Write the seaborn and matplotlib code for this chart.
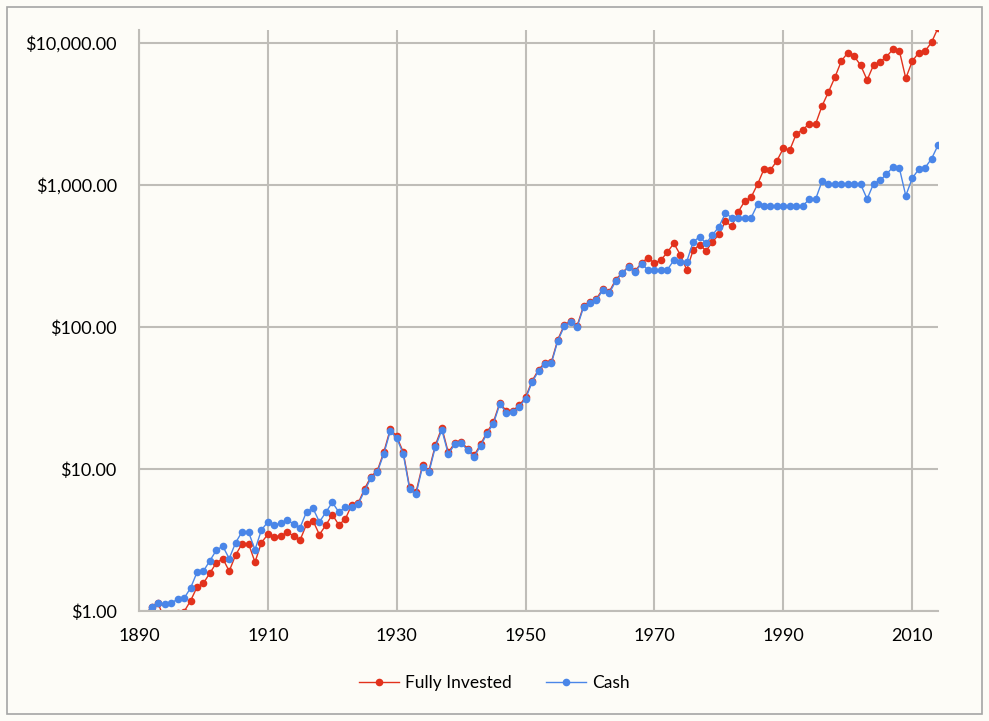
import seaborn as sns
import matplotlib.pyplot as plt
import pandas as pd
from matplotlib.ticker import FuncFormatter, NullLocator
from matplotlib.patches import Rectangle

years = list(range(1891, 2015))

fully_invested = [
    0.95, 1.07, 1.13, 0.85, 0.96, 0.97, 0.99, 1.18, 1.47, 1.57,
    1.85, 2.18, 2.34, 1.91, 2.48, 2.98, 2.98, 2.21, 3.03, 3.47,
    3.32, 3.38, 3.58, 3.38, 3.16, 4.08, 4.32, 3.45, 4.03, 4.77,
    4.05, 4.42, 5.58, 5.73, 7.23, 8.85, 9.76, 13.17, 19.12, 16.94,
    13.17, 7.41, 6.89, 10.67, 9.76, 14.76, 19.54, 13.07, 15.25, 15.49,
    13.94, 12.45, 14.88, 18.16, 21.36, 29.40, 25.53, 25.82, 28.01, 32.03,
    41.66, 50.03, 56.07, 56.70, 81.66, 103.3, 110.2, 102.1, 141.3, 150.0,
    158.3, 186.1, 177.8, 216.0, 241.3, 267.6, 248.0, 283.7, 307.6, 280.9,
    296.4, 335.9, 388.5, 323.0, 253.3, 346.8, 379.8, 344.5, 396.8, 449.6,
    553.4, 512.0, 647.6, 769.0, 820.6, 1013, 1296, 1275, 1483, 1814,
    1764, 2287, 2451, 2689, 2689, 3601, 4518, 5735, 7468, 8545,
    8058, 6966, 5489, 7000, 7348, 8007, 9028, 8826, 5641, 7431,
    8545, 8783, 10113, 12760,
]

cash = [
    0.95, 1.07, 1.13, 1.12, 1.14, 1.21, 1.23, 1.45, 1.87, 1.91,
    2.26, 2.68, 2.86, 2.34, 3.03, 3.62, 3.60, 2.70, 3.72, 4.24,
    4.03, 4.15, 4.37, 4.10, 3.86, 5.00, 5.29, 4.24, 4.96, 5.83,
    4.98, 5.37, 5.37, 5.64, 7.00, 8.64, 9.53, 12.82, 18.52, 16.45,
    12.82, 7.23, 6.67, 10.38, 9.48, 14.36, 18.82, 12.75, 14.88, 15.17,
    13.61, 12.15, 14.52, 17.73, 20.84, 28.69, 24.92, 25.20, 27.33, 31.26,
    40.79, 48.98, 54.89, 55.52, 80.09, 101.1, 107.9, 100.0, 138.3, 146.9,
    155.0, 182.2, 173.5, 210.8, 238.9, 264.6, 245.1, 279.1, 252.0, 252.0,
    252.0, 253.3, 294.9, 288.3, 288.3, 396.8, 432.4, 388.5, 444.5, 508.5,
    632.0, 588.5, 588.5, 588.5, 588.5, 731.3, 711.4, 711.4, 711.4, 711.4,
    711.4, 711.4, 711.4, 793.2, 793.2, 1062, 1011, 1011, 1011, 1011,
    1011, 1011, 797, 1021, 1079, 1190, 1339, 1317, 840.5, 1115,
    1290, 1324, 1532, 1904,
]

series_names = ["Fully Invested", "Cash"]
colors = ["#E2321C", "#4A86E8"]
x_ticks = [1890, 1910, 1930, 1950, 1970, 1990, 2010]
y_ticks = [1, 10, 100, 1000, 10000]

df = pd.DataFrame({
    "Year": years * 2,
    "Value": fully_invested + cash,
    "Series": [series_names[0]] * len(years) + [series_names[1]] * len(years),
})

bg = "#FDFCF7"
grid_col = "#BFBDB8"

plt.rcParams["font.family"] = ["Lato", "DejaVu Sans"]

fig = plt.figure(figsize=(9.89, 7.21), dpi=100, facecolor=bg)
ax = fig.add_axes([139 / 989, 1 - 611 / 721, (938 - 139) / 989, (611 - 30) / 721])
ax.set_facecolor(bg)

sns.lineplot(data=df, x="Year", y="Value", hue="Series", hue_order=series_names,
             palette=colors, marker="o", markersize=5.5, markeredgewidth=0,
             linewidth=1.0, ax=ax)

ax.set_yscale("log")
ax.set_xlim(1890, 2014)
ax.set_ylim(1, 12350)
ax.set_xticks(x_ticks)
ax.set_yticks(y_ticks)
ax.yaxis.set_minor_locator(NullLocator())
ax.yaxis.set_major_formatter(FuncFormatter(lambda v, p: "${:,.2f}".format(v)))
ax.grid(True, color=grid_col, linewidth=1.5)
ax.set_axisbelow(True)
ax.tick_params(length=0, labelsize=13, colors="black")
ax.tick_params(axis="x", pad=12)
ax.tick_params(axis="y", pad=16)
ax.set_xlabel("")
ax.set_ylabel("")
for side in ["top", "right"]:
    ax.spines[side].set_visible(False)
for side in ["left", "bottom"]:
    ax.spines[side].set_color(grid_col)
    ax.spines[side].set_linewidth(1.5)

# legend below the plot, handles taken from the drawn lines so the dot shows
ax.get_legend().remove()
ax.legend(handles=ax.lines[:2], labels=series_names, loc="center",
          bbox_to_anchor=(0.5, 1 - 683 / 721), bbox_transform=fig.transFigure,
          ncol=2, frameon=False, fontsize=12.5, handlelength=2.3,
          columnspacing=2.0, handletextpad=0.35, numpoints=1)

fig.add_artist(Rectangle((7 / 989, 7 / 721), 975 / 989, 707 / 721,
                         transform=fig.transFigure, fill=False,
                         edgecolor="#A5A5A5", linewidth=1.2))

fig.savefig("out.png", dpi=100, facecolor=bg)
